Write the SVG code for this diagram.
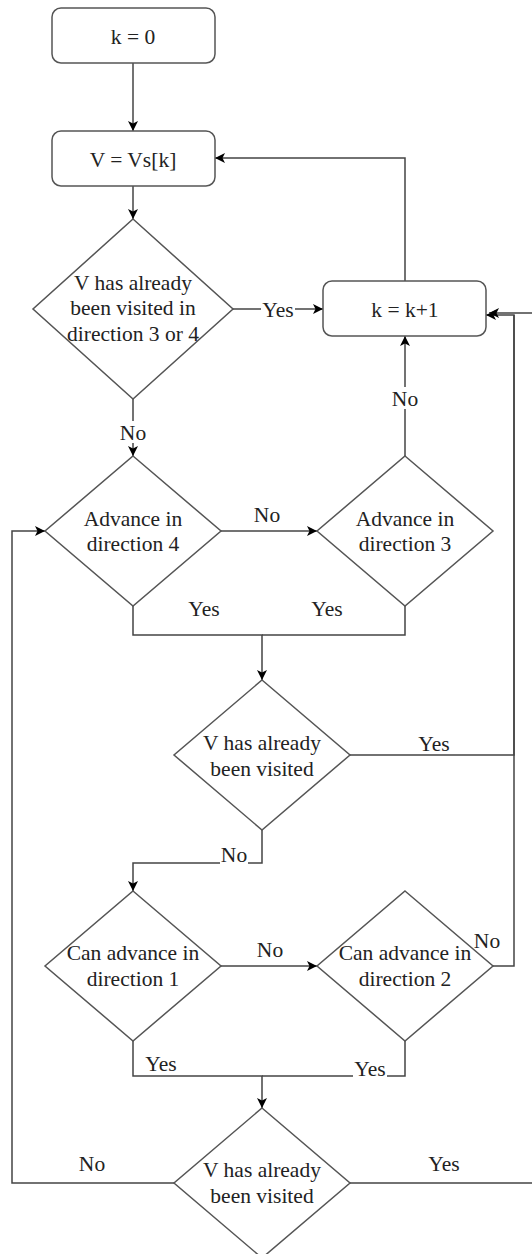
<svg xmlns="http://www.w3.org/2000/svg" width="532" height="1254" viewBox="0 0 532 1254">
<style>
.n{fill:#fff;stroke:#555;stroke-width:1.5}
.e{fill:none;stroke:#444;stroke-width:1.5}
.t{font-family:"Liberation Serif","Times New Roman",serif;font-size:21.5px;fill:#222;text-anchor:middle}
.bg{fill:#fff}
</style>
<defs>
<marker id="a" markerUnits="userSpaceOnUse" markerWidth="12" markerHeight="12" refX="10" refY="5" orient="auto">
<path d="M0,0 L10,5 L0,10 L2.5,5 z" fill="#000"/>
</marker>
</defs>
<g id="connectors">
<path class="e" d="M133,63 V131" marker-end="url(#a)"/>
<path class="e" d="M133,186 V219" marker-end="url(#a)"/>
<path class="e" d="M233,309 H323" marker-end="url(#a)"/>
<path class="e" d="M405,281 V158 H215" marker-end="url(#a)"/>
<path class="e" d="M133,399 V456" marker-end="url(#a)"/>
<path class="e" d="M221,531 H317" marker-end="url(#a)"/>
<path class="e" d="M405,456 V336" marker-end="url(#a)"/>
<path class="e" d="M133,606 V635 H262 V680" marker-end="url(#a)"/>
<path class="e" d="M405,606 V635 H262"/>
<path class="e" d="M349,755 H514 V315 H486" marker-end="url(#a)"/>
<path class="e" d="M262,830 V863 H133 V891" marker-end="url(#a)"/>
<path class="e" d="M221,966 H317" marker-end="url(#a)"/>
<path class="e" d="M493,966 H514 V315"/>
<path class="e" d="M133,1041 V1076 H262 V1108" marker-end="url(#a)"/>
<path class="e" d="M405,1041 V1076 H262"/>
<path class="e" d="M175,1183 H12 V531 H45" marker-end="url(#a)"/>
<path class="e" d="M349,1183 H545 V313 H489" marker-end="url(#a)"/>
</g>
<g id="n_k0"><rect class="n" x="52" y="8" width="163" height="55" rx="9"/><text class="t" x="133" y="43.5">k = 0</text></g>
<g id="n_v"><rect class="n" x="52" y="131" width="163" height="55" rx="9"/><text class="t" x="133" y="166.5">V = Vs[k]</text></g>
<g id="n_kk"><rect class="n" x="323" y="281" width="163" height="55" rx="9"/><text class="t" x="405" y="316.5">k = k+1</text></g>
<g id="n_d1"><polygon class="n" points="133,219 233,309 133,399 33,309"/><text class="t" x="133" y="289.5">V has already</text><text class="t" x="133" y="315">been visited in</text><text class="t" x="133" y="340.5">direction 3 or 4</text></g>
<g id="n_d4"><polygon class="n" points="133,456 221,531 133,606 45,531"/><text class="t" x="133" y="525.5">Advance in</text><text class="t" x="133" y="550.5">direction 4</text></g>
<g id="n_d3"><polygon class="n" points="405,456 493,531 405,606 317,531"/><text class="t" x="405" y="525.5">Advance in</text><text class="t" x="405" y="550.5">direction 3</text></g>
<g id="n_dv"><polygon class="n" points="262,680 350,755 262,830 174,755"/><text class="t" x="262" y="749.5">V has already</text><text class="t" x="262" y="775.5">been visited</text></g>
<g id="n_c1"><polygon class="n" points="133,891 221,966 133,1041 45,966"/><text class="t" x="133" y="959.5">Can advance in</text><text class="t" x="133" y="985.5">direction 1</text></g>
<g id="n_c2"><polygon class="n" points="405,891 493,966 405,1041 317,966"/><text class="t" x="405" y="959.5">Can advance in</text><text class="t" x="405" y="985.5">direction 2</text></g>
<g id="n_db"><polygon class="n" points="262,1108 350,1183 262,1258 174,1183"/><text class="t" x="262" y="1176.5">V has already</text><text class="t" x="262" y="1202.5">been visited</text></g>
<g id="labels">
<rect class="bg" x="261" y="298" width="34" height="22"/><text class="t" x="278" y="316.5">Yes</text>
<rect class="bg" x="119" y="421" width="28" height="22"/><text class="t" x="133" y="439.5">No</text>
<rect class="bg" x="391" y="387" width="28" height="22"/><text class="t" x="405" y="405.5">No</text>
<text class="t" x="267" y="521.5">No</text>
<text class="t" x="204" y="615.5">Yes</text>
<text class="t" x="327" y="615.5">Yes</text>
<rect class="bg" x="417" y="732" width="34" height="22"/><text class="t" x="434" y="750.5">Yes</text>
<rect class="bg" x="220" y="843" width="28" height="22"/><text class="t" x="234" y="861.5">No</text>
<text class="t" x="270" y="956.5">No</text>
<text class="t" x="487" y="947.5">No</text>
<text class="t" x="161" y="1070.5">Yes</text>
<rect class="bg" x="353" y="1057" width="34" height="22"/><text class="t" x="370" y="1075.5">Yes</text>
<text class="t" x="92" y="1170.5">No</text>
<text class="t" x="444" y="1170.5">Yes</text>
</g>
</svg>
